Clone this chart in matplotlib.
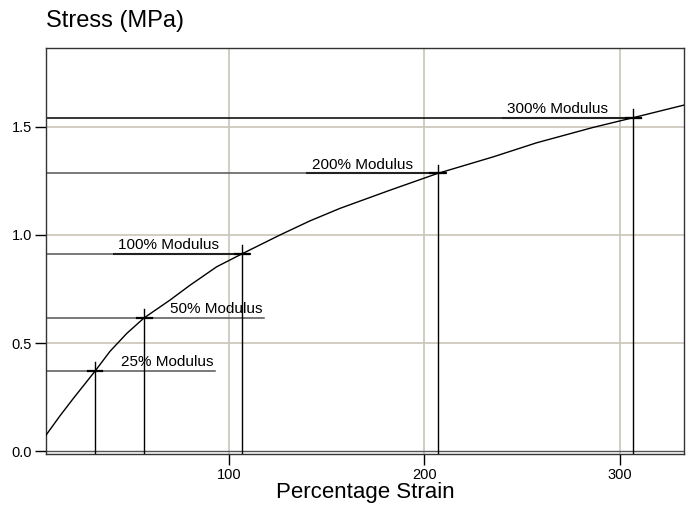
import numpy as np
import matplotlib
matplotlib.use('Agg')
import matplotlib.pyplot as plt

plt.rcParams['font.family'] = ['Liberation Sans', 'DejaVu Sans']

# stress-strain curve
strain = [6.4, 13.6, 20.4, 31.5, 39.1, 47.7, 56.6, 69.8, 80.1, 93.7, 106.7, 126.1,
          141.4, 156.8, 182.4, 206.6, 235.2, 257.4, 286.3, 306.8, 332.7]
stress = [0.075, 0.165, 0.245, 0.371, 0.462, 0.545, 0.617, 0.699, 0.768, 0.853, 0.913, 1.000,
          1.065, 1.123, 1.207, 1.284, 1.361, 1.426, 1.497, 1.542, 1.600]

# modulus points
mod_labels = ['25% Modulus', '50% Modulus', '100% Modulus', '200% Modulus', '300% Modulus']
mod_strain = [31.5, 56.7, 106.7, 206.7, 306.8]
mod_stress = [0.371, 0.616, 0.912, 1.285, 1.541]
mod_line_end = [92.8, 117.9, 110.7, 211.0, 311.0]
mod_label_end = [92.0, 117.4, 95.0, 194.0, 294.0]

xticks = [100, 200, 300]
yticks = [0.0, 0.5, 1.0, 1.5]

fig = plt.figure(figsize=(6.91, 5.13), dpi=100)
ax = fig.add_axes([46 / 691, 1 - 454 / 513, 638 / 691, 406 / 513])

xmin, xmax = 6.4, 332.8
ymin, ymax = -0.012, 1.864
ax.set_xlim(xmin, xmax)
ax.set_ylim(ymin, ymax)

grid_c = '#c9c5b9'
for x in xticks:
    ax.axvline(x, color=grid_c, lw=1.2, zorder=1)
for y in yticks[1:]:
    ax.axhline(y, color=grid_c, lw=1.2, zorder=1)
ax.axhline(0.0, color='#555555', lw=1.0, zorder=2)

for i in range(len(mod_labels)):
    sx, sy = mod_strain[i], mod_stress[i]
    hc = 'black' if i == 4 else '#555555'
    ax.plot([xmin, mod_line_end[i]], [sy, sy], color=hc, lw=1.1, zorder=2)
    ax.plot([sx, sx], [ymin, sy + 0.04], color='black', lw=1.0, zorder=2)
    ax.plot([sx - 3.8, sx + 3.8], [sy, sy], color='black', lw=1.6, zorder=3)
    ax.text(mod_label_end[i], sy + 0.008, mod_labels[i], ha='right', va='bottom',
            fontsize=11, color='black', zorder=4)
    if i >= 2:
        ax.plot([mod_label_end[i] - 54, mod_line_end[i]], [sy, sy], color='#222222', lw=1.5, zorder=2)

ax.plot(strain, stress, color='black', lw=1.0, zorder=5)

ax.set_xticks(xticks)
ax.set_xticklabels([str(x) for x in xticks])
ax.set_yticks(yticks)
ax.set_yticklabels(['%.1f' % y for y in yticks])
ax.tick_params(direction='out', length=8, width=1, labelsize=10.5, pad=2)
for s in ax.spines.values():
    s.set_color('#333333')
    s.set_linewidth(1.0)

ax.set_xlabel('Percentage Strain', fontsize=16, labelpad=0)
fig.text(46 / 691, 1 - 27 / 513, 'Stress (MPa)', fontsize=17, ha='left', va='baseline')

fig.savefig('out.png', dpi=100)
